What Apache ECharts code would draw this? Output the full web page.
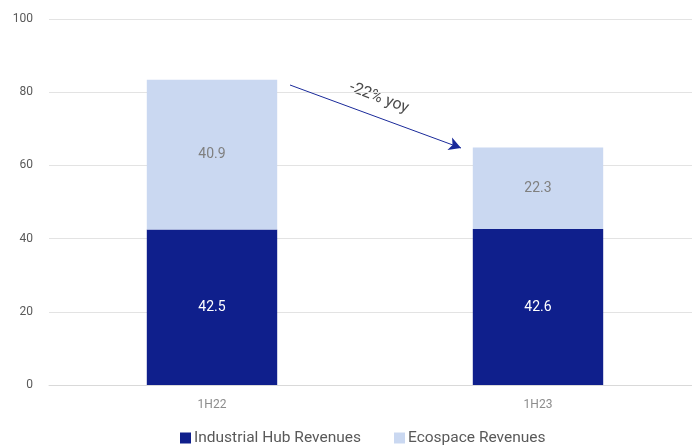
<!DOCTYPE html>
<html>
<head>
<meta charset="utf-8">
<script src="https://cdn.jsdelivr.net/npm/echarts@6/dist/echarts.min.js"></script>
<style>
  html, body { margin: 0; padding: 0; background: #fff; overflow: hidden; }
  #chart { width: 701px; height: 446px; }
</style>
</head>
<body>
<div id="chart"></div>
<script>
// Half-year periods and revenue split
const periods = ['1H22', '1H23'];
const industrialHub = [42.5, 42.6];
const ecospace = [40.9, 22.3];
const yTicks = [0, 20, 40, 60, 80, 100];
const changeLabel = '-22% yoy';

const chart = echarts.init(document.getElementById('chart'));
const font = 'Roboto, "Open Sans", sans-serif';

chart.setOption({
  animation: false,
  textStyle: { fontFamily: font },
  grid: { left: 49, top: 19, bottom: 61, right: 0 },
  legend: {
    bottom: -5,
    left: 175,
    itemWidth: 11,
    itemHeight: 11,
    itemGap: 33,
    icon: 'rect',
    textStyle: { color: '#595959', fontSize: 15.5, fontFamily: font, padding: [0, 0, 0, -2] },
    data: ['Industrial Hub Revenues', 'Ecospace Revenues']
  },
  xAxis: {
    type: 'category',
    data: periods,
    axisLine: { lineStyle: { color: '#d9d9d9' } },
    axisTick: { show: false },
    axisLabel: { color: '#8c8c8c', fontSize: 12, margin: 14 }
  },
  yAxis: {
    type: 'value',
    min: yTicks[0],
    max: yTicks[yTicks.length - 1],
    interval: 20,
    axisLabel: { color: '#595959', fontSize: 12, margin: 16 },
    splitLine: { lineStyle: { color: '#e3e3e3' } },
    axisLine: { show: false },
    axisTick: { show: false }
  },
  series: [
    {
      name: 'Industrial Hub Revenues',
      type: 'bar',
      stack: 'rev',
      barWidth: '40%',
      data: industrialHub,
      itemStyle: { color: '#0f1f8c' },
      label: { show: true, position: 'inside', color: '#ffffff', fontSize: 14,
               formatter: p => p.value.toFixed(1) }
    },
    {
      name: 'Ecospace Revenues',
      type: 'bar',
      stack: 'rev',
      barWidth: '40%',
      data: ecospace,
      itemStyle: { color: '#cad8f1' },
      label: { show: true, position: 'inside', color: '#7f7f7f', fontSize: 14,
               formatter: p => p.value.toFixed(1) },
      markLine: {
        silent: true,
        symbol: ['none', 'arrow'],
        symbolSize: [10, 12],
        lineStyle: { color: '#1a2a9a', width: 1, type: 'solid' },
        label: { show: false },
        data: [[{ x: 290, y: 85 }, { x: 461, y: 148 }]]
      }
    }
  ],
  graphic: [
    {
      type: 'text',
      x: 379,
      y: 98,
      rotation: -0.36,
      style: {
        text: changeLabel,
        font: '16px ' + font,
        fill: '#4a4a4a',
        align: 'center',
        verticalAlign: 'middle'
      }
    }
  ]
});
</script>
</body>
</html>
